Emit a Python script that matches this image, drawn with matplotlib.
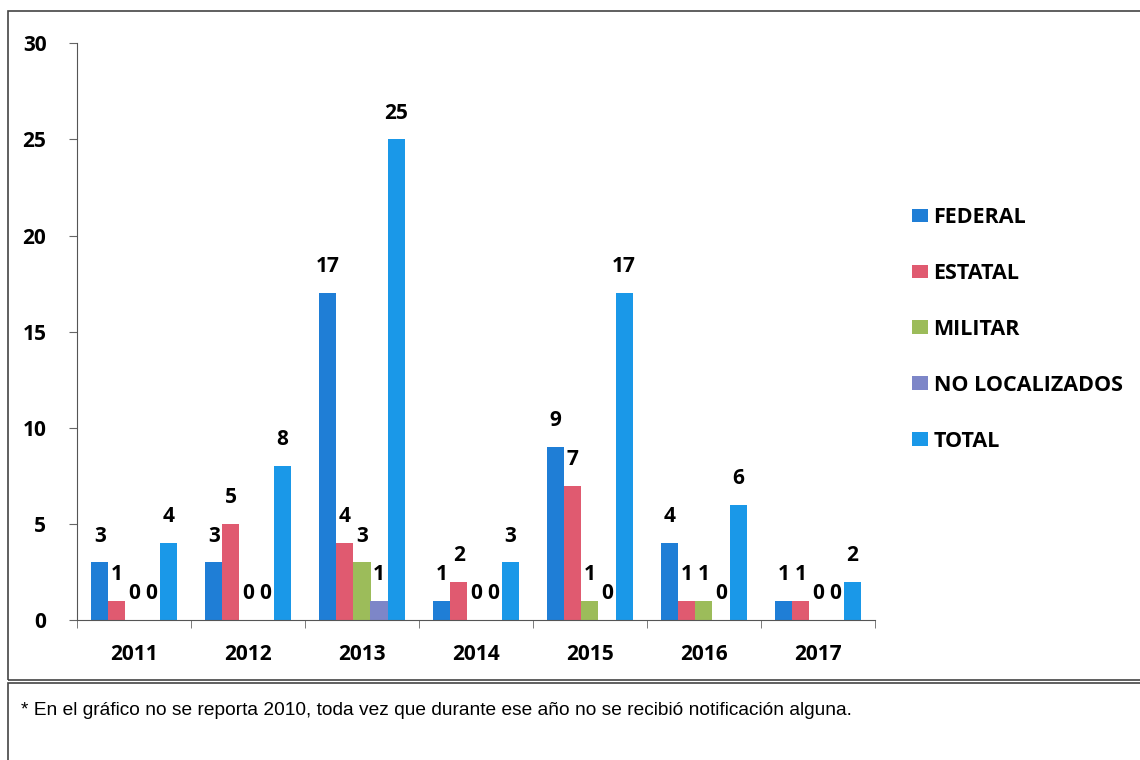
import matplotlib.pyplot as plt
import matplotlib.patches as mpatches
import numpy as np

years = ['2011', '2012', '2013', '2014', '2015', '2016', '2017']
federal = [3, 3, 17, 1, 9, 4, 1]
estatal = [1, 5, 4, 2, 7, 1, 1]
militar = [0, 0, 3, 0, 1, 1, 0]
no_localizados = [0, 0, 1, 0, 0, 0, 0]
total = [4, 8, 25, 3, 17, 6, 2]

series = [('FEDERAL', federal, '#1f7ed6'),
          ('ESTATAL', estatal, '#e05a70'),
          ('MILITAR', militar, '#9cbc5a'),
          ('NO LOCALIZADOS', no_localizados, '#7d86c8'),
          ('TOTAL', total, '#1a98e8')]

plt.rcParams['font.family'] = ['Open Sans', 'DejaVu Sans']

fig = plt.figure(figsize=(11.4, 7.6), dpi=100)
ax = fig.add_axes([0.0675, 0.184, 0.70, 0.759])

x = np.arange(len(years))
w = 0.15
for k, (name, vals, col) in enumerate(series):
    pos = x + (k - 2) * w
    ax.bar(pos, vals, width=w, color=col, label=name)
    for px, v in zip(pos, vals):
        ax.annotate(str(v), (px, v), xytext=(0, 19), textcoords='offset points',
                    ha='center', va='center', fontsize=15, fontweight='bold')

ax.set_xlim(-0.5, len(years) - 0.5)
ax.set_ylim(0, 30)
ax.set_yticks([0, 5, 10, 15, 20, 25, 30])
ax.set_xticks(x)
ax.set_xticklabels(years)
ax.set_xticks(np.arange(-0.5, len(years), 1), minor=True)
ax.tick_params(axis='x', which='major', length=0, pad=17, labelsize=15)
ax.tick_params(axis='x', which='minor', length=6, color='#666666')
ax.tick_params(axis='y', length=6, color='#666666', pad=16, labelsize=15)
for lab in ax.get_xticklabels() + ax.get_yticklabels():
    lab.set_fontweight('bold')
ax.spines['top'].set_visible(False)
ax.spines['right'].set_visible(False)
ax.spines['left'].set_color('#555555')
ax.spines['bottom'].set_color('#555555')

ax.legend(loc='upper left', bbox_to_anchor=(0.783, 0.753), bbox_transform=fig.transFigure,
          frameon=False, prop={'weight': 'bold', 'size': 15.5}, handlelength=0.75,
          handleheight=0.6, handletextpad=0.25, labelspacing=1.62)

# outer chart box and footnote box
fig.patches.append(mpatches.Rectangle((0.007, 0.105), 1.0, 0.88, transform=fig.transFigure,
                                      fill=False, edgecolor='#444444', lw=1.2))
fig.patches.append(mpatches.Rectangle((0.007, -0.01), 1.0, 0.111, transform=fig.transFigure,
                                      fill=False, edgecolor='#444444', lw=1.2))
fig.text(0.018, 0.065, '* En el gráfico no se reporta 2010, toda vez que durante ese año no se recibió notificación alguna.',
         fontsize=13.8, family=['Liberation Sans Narrow', 'Liberation Sans'], va='center')

fig.savefig('out.png', dpi=100)
